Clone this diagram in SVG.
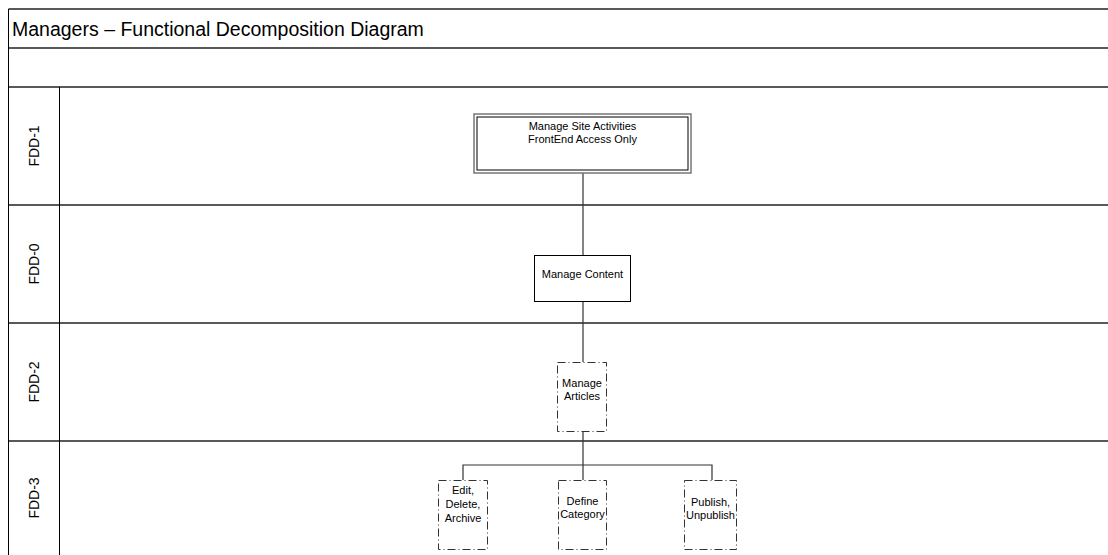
<svg xmlns="http://www.w3.org/2000/svg" width="1108" height="555" viewBox="0 0 1108 555">
  <style>
    .frame { fill: none; stroke: #000; stroke-width: 1; }
    .lane { stroke: #222; stroke-width: 1.3; }
    .title { font-family: "Liberation Sans", Arial, sans-serif; font-size: 19.5px; fill: #000; }
    .lanelbl { font-family: "Liberation Sans", Arial, sans-serif; font-size: 14px; fill: #000; text-anchor: middle; }
    .lbl { font-family: "Liberation Sans", Arial, sans-serif; font-size: 11px; fill: #000; text-anchor: middle; }
    .box { fill: #fff; stroke: #000; stroke-width: 1; }
    .outer { fill: #fff; stroke: #777; stroke-width: 1.5; }
    .dash { fill: #fff; stroke: #333; stroke-width: 1; stroke-dasharray: 8 3 1 3; }
    .conn { fill: none; stroke: #333; stroke-width: 1.2; }
  </style>

  <rect width="1108" height="555" fill="#fff"/>

  <!-- swimlane frame -->
  <g id="frame">
    <line class="lane" x1="8.5" y1="9" x2="1108" y2="9"/>
    <line class="lane" x1="8.5" y1="48" x2="1108" y2="48"/>
    <line class="lane" x1="8.5" y1="87" x2="1108" y2="87"/>
    <line class="lane" x1="8.5" y1="205" x2="1108" y2="205"/>
    <line class="lane" x1="8.5" y1="323" x2="1108" y2="323"/>
    <line class="lane" x1="8.5" y1="441" x2="1108" y2="441"/>
    <line class="frame" x1="8.5" y1="9" x2="8.5" y2="555"/>
    <line class="frame" x1="59.5" y1="87" x2="59.5" y2="555"/>
    <text class="title" x="12" y="35.5">Managers – Functional Decomposition Diagram</text>
    <text class="lanelbl" transform="translate(39,146) rotate(-90)">FDD-1</text>
    <text class="lanelbl" transform="translate(39,264) rotate(-90)">FDD-0</text>
    <text class="lanelbl" transform="translate(39,382) rotate(-90)">FDD-2</text>
    <text class="lanelbl" transform="translate(39,498) rotate(-90)">FDD-3</text>
  </g>

  <!-- connectors -->
  <g id="connectors">
    <line class="conn" x1="583" y1="173" x2="583" y2="255"/>
    <line class="conn" x1="583" y1="302" x2="583" y2="362"/>
    <line class="conn" x1="583" y1="432" x2="583" y2="465" stroke-width="2"/>
    <polyline class="conn" points="463,480 463,465 712,465 712,480"/>
    <line class="conn" x1="583" y1="465" x2="583" y2="480"/>
  </g>

  <g id="node-site">
    <rect class="outer" x="474" y="114" width="217" height="59"/>
    <rect class="box" x="477" y="117" width="211" height="53"/>
    <text class="lbl" x="582.5" y="130">Manage Site Activities</text>
    <text class="lbl" x="582.5" y="143">FrontEnd Access Only</text>
  </g>

  <g id="node-content">
    <rect class="box" x="534.5" y="255.5" width="96" height="46"/>
    <text class="lbl" x="582.5" y="278">Manage Content</text>
  </g>

  <g id="node-articles">
    <rect class="dash" x="557.5" y="362.5" width="49" height="69"/>
    <text class="lbl" x="582" y="387">Manage</text>
    <text class="lbl" x="582" y="400">Articles</text>
  </g>

  <g id="node-edit">
    <rect class="dash" x="438.5" y="480.5" width="49" height="69"/>
    <text class="lbl" x="463" y="494">Edit,</text>
    <text class="lbl" x="463" y="508">Delete,</text>
    <text class="lbl" x="463" y="522">Archive</text>
  </g>

  <g id="node-category">
    <rect class="dash" x="558.5" y="480.5" width="48" height="69"/>
    <text class="lbl" x="582.5" y="505">Define</text>
    <text class="lbl" x="582.5" y="518">Category</text>
  </g>

  <g id="node-publish">
    <rect class="dash" x="684.5" y="480.5" width="52" height="69"/>
    <text class="lbl" x="710.5" y="506">Publish,</text>
    <text class="lbl" x="710.5" y="519">Unpublish</text>
  </g>
</svg>
